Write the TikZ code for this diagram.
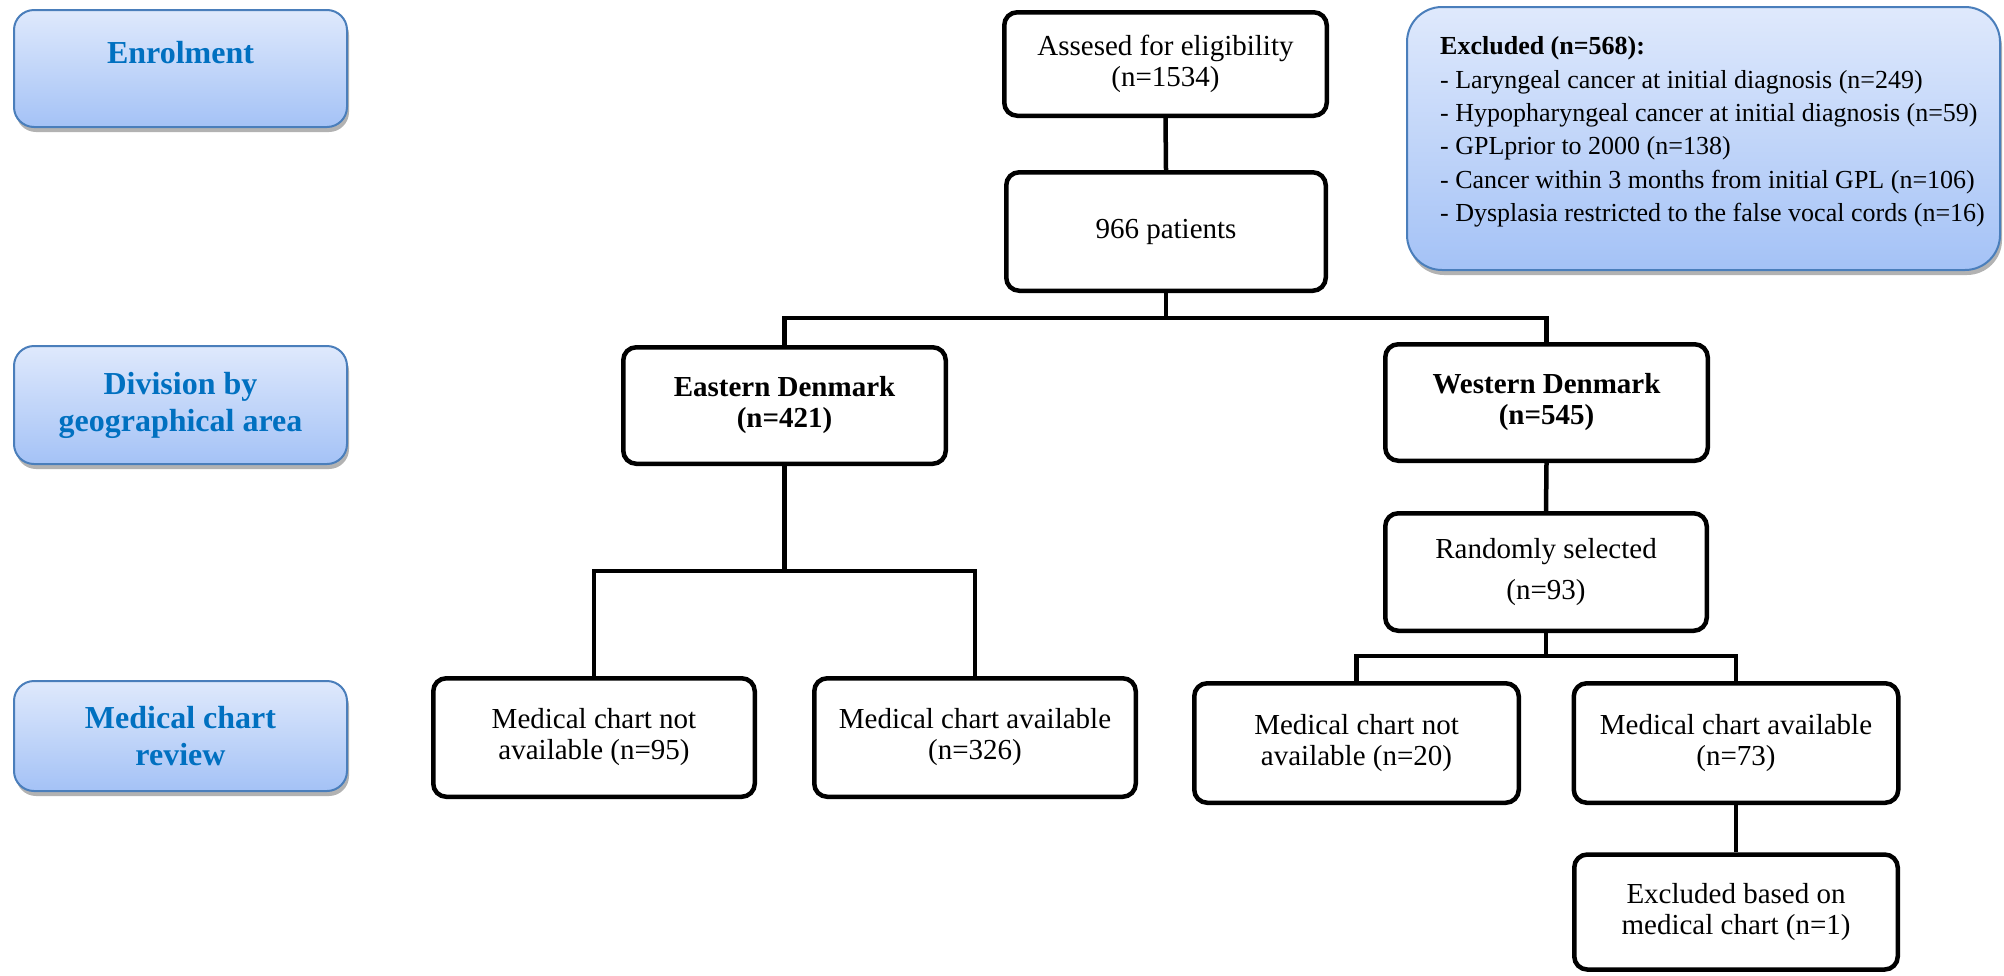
\documentclass[tikz,border=0pt]{standalone}
\usepackage{fontspec}
\setmainfont{Liberation Serif}
\usetikzlibrary{shadows}
\definecolor{hdrtext}{HTML}{0070C0}
\definecolor{hdrtop}{HTML}{DFE9FC}
\definecolor{hdrbot}{HTML}{A4C2F6}
\definecolor{hdrline}{HTML}{4A7EBB}
\begin{document}
\begin{tikzpicture}[x=1pt,y=-1pt,
  flowbox/.style={draw=black, line width=4.5pt, rounded corners=13pt, fill=white,
    align=center, inner sep=0pt, font=\fontsize{29}{31}\selectfont},
  conn/.style={draw=black, line width=4.5pt},
  hdr/.style={draw=hdrline, line width=2pt, rounded corners=20pt,
    top color=hdrtop, bottom color=hdrbot,
    drop shadow={shadow xshift=2pt, shadow yshift=-5pt, fill=black, opacity=0.3},
    text=hdrtext, font=\bfseries\fontsize{32}{37}\selectfont, align=center, inner sep=0pt},
  exclbox/.style={draw=hdrline, line width=2pt, rounded corners=35pt,
    top color=hdrtop, bottom color=hdrbot,
    drop shadow={shadow xshift=2pt, shadow yshift=-5pt, fill=black, opacity=0.3},
    font=\fontsize{26}{33.3}\selectfont, inner sep=0pt}
]
\useasboundingbox (0,0) rectangle (2004,975);

% left header boxes
\node[hdr, minimum width=333pt, minimum height=117pt, text depth=33pt] (enrol) at (180.5,68.5) {Enrolment};
\node[hdr, minimum width=333pt, minimum height=118pt] (div) at (180.5,405) {Division by\\geographical area};
\node[hdr, minimum width=333pt, minimum height=110pt] (mcr) at (180.5,736) {Medical chart\\review};

% excluded box
\node[exclbox, minimum width=593pt, minimum height=263pt] (excl) at (1703.5,138.5)
 {\hspace*{18pt}\raisebox{7pt}[\height][\depth]{\begin{tabular}{@{}l@{}}
  \textbf{Excluded (n=568):}\\
  - Laryngeal cancer at initial diagnosis (n=249)\\
  - Hypopharyngeal cancer at initial diagnosis (n=59)\\
  - GPLprior to 2000 (n=138)\\
  - Cancer within 3 months from initial GPL (n=106)\\
  - Dysplasia restricted to the false vocal cords (n=16)
  \end{tabular}}};

% flow boxes
\node[flowbox, minimum width=322.5pt, minimum height=103.5pt] (assess) at (1165.5,64) {Assesed for eligibility\\(n=1534)};
\node[flowbox, minimum width=319.5pt, minimum height=118.5pt] (pat) at (1166,231.5) {966 patients};
\node[flowbox, minimum width=322.5pt, minimum height=116.5pt] (east) at (784.5,405.5) {\textbf{Eastern Denmark}\\\textbf{(n=421)}};
\node[flowbox, minimum width=322.5pt, minimum height=116.5pt] (west) at (1546.5,402.5) {\textbf{Western Denmark}\\\textbf{(n=545)}};
\node[flowbox, minimum width=321.5pt, minimum height=118.5pt] (e1) at (594,737.5) {Medical chart not\\available (n=95)};
\node[flowbox, minimum width=321.5pt, minimum height=118.5pt] (e2) at (975,737.5) {Medical chart available\\(n=326)};
\node[flowbox, minimum width=321.5pt, minimum height=117.5pt] (rand) at (1546,572) {Randomly selected\\[10pt](n=93)};
\node[flowbox, minimum width=324.5pt, minimum height=119.5pt] (w1) at (1356.5,743) {Medical chart not\\available (n=20)};
\node[flowbox, minimum width=324.5pt, minimum height=119.5pt] (w2) at (1736,743) {Medical chart available\\(n=73)};
\node[flowbox, minimum width=323.5pt, minimum height=115pt] (ex2) at (1736,912) {Excluded based on\\medical chart (n=1)};

% junctions
\coordinate (j1) at (1166,318);
\coordinate (j2) at (784.5,571);
\coordinate (j3) at (1546,656);

% connectors
\draw[conn] (assess.south) -- (pat.north);
\draw[conn] (pat.south) -- (j1);
\draw[conn] (east.north) |- (j1) -| (west.north);
\draw[conn] (east.south) -- (j2);
\draw[conn] (e1.north) |- (j2) -| (e2.north);
\draw[conn] (west.south) -- (rand.north);
\draw[conn] (rand.south) -- (j3);
\draw[conn] (w1.north) |- (j3) -| (w2.north);
\draw[conn] (w2.south) -- (ex2.north);
\end{tikzpicture}
\end{document}
